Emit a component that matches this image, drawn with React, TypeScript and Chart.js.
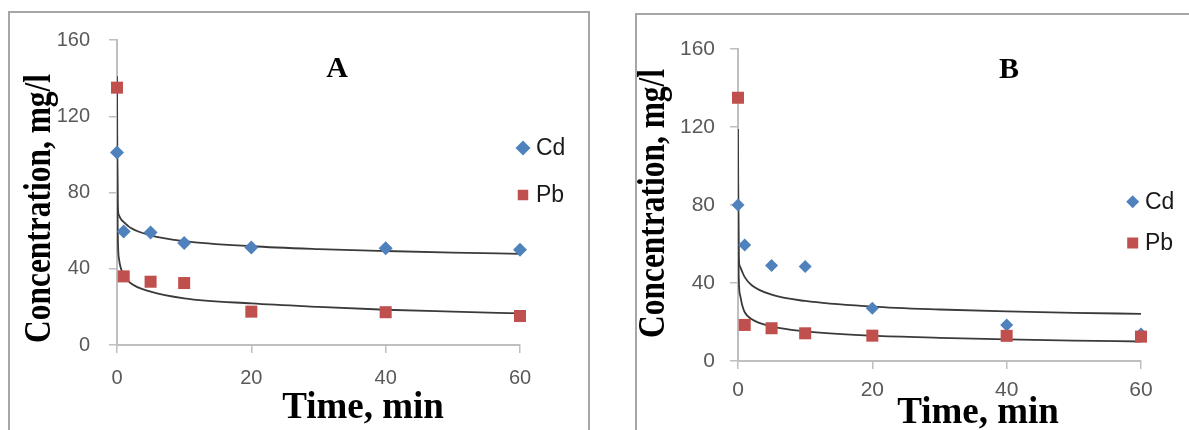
import React, { useEffect, useRef } from 'react';
import { Chart, registerables } from 'chart.js';

Chart.register(...registerables);

// ---------- data ----------
const timeMin = [0, 1, 5, 10, 20, 40, 60];
const cdA = [101, 59.5, 59, 53.5, 51.2, 50.7, 50];
const pbA = [135, 36, 33.2, 32.5, 17.5, 17.2, 15.2];
const cdB = [80, 59.5, 49, 48.5, 27, 18.5, 13.8];
const pbB = [135, 18.5, 16.8, 14.2, 13, 12.9, 12.5];

// trend curves
const fitTime = [0, 0.1, 0.3, 0.6, 1, 2, 5, 10, 20, 30, 40, 50, 60];
const cdFitA = [110, 74, 68, 66, 64.5, 61.5, 57.5, 54.5, 51.8, 50.3, 49.3, 48.5, 47.8];
const pbFitA = [141, 62, 45, 40, 36.5, 32.5, 28, 24.5, 21.8, 20, 18.5, 17.5, 16.6];
const cdFitB = [100, 54, 48.5, 46, 43, 39, 34, 30.8, 27.9, 26.4, 25.4, 24.7, 24.2];
const pbFitB = [119, 45, 34, 29, 25, 21.5, 17.7, 15.2, 13, 11.9, 11.1, 10.5, 10];

const xTickValues = [0, 20, 40, 60];
const yTickValues = [0, 40, 80, 120, 160];
const seriesNames = ['Cd', 'Pb'];
const xTitle = 'Time, min';
const yTitle = 'Concentration, mg/l';

const CD_COLOR = '#4F81BD';
const PB_COLOR = '#C0504D';
const AXIS_COLOR = '#BFBFBF';
const TICK_TEXT = '#595959';
const CURVE_COLOR = '#3a3a3a';

type Panel = {
  letter: string;
  cd: number[];
  pb: number[];
  cdFit: number[];
  pbFit: number[];
  left: number;
  width: number;
  padding: { left: number; right: number; top: number; bottom: number };
  tickFont: number;
  yTickPad: number;
  xTickPad: number;
  letterPos: [number, number];
  xTitlePos: [number, number];
  yTitlePos: [number, number];
  yTitleStretch: number;
  legendX: number;
  legendY: [number, number];
  legendTextX: number;
  diamondR: number;
  squareSide: number;
  pointR: [number, number];
};

const panels: Panel[] = [
  {
    letter: 'A',
    cd: cdA,
    pb: pbA,
    cdFit: cdFitA,
    pbFit: pbFitA,
    left: 0,
    width: 600,
    padding: { left: 17, right: 80, top: 40, bottom: 25 },
    tickFont: 20,
    yTickPad: 19,
    xTickPad: 13,
    letterPos: [337, 77],
    xTitlePos: [363, 418],
    yTitlePos: [50, 343],
    yTitleStretch: 0.85,
    legendX: 523,
    legendY: [148, 195],
    legendTextX: 536,
    diamondR: 7.5,
    squareSide: 10.5,
    pointR: [7, 8.5],
  },
  {
    letter: 'B',
    cd: cdB,
    pb: pbB,
    cdFit: cdFitB,
    pbFit: pbFitB,
    left: 600,
    width: 589,
    padding: { left: 38, right: 48, top: 49, bottom: 9 },
    tickFont: 21,
    yTickPad: 15,
    xTickPad: 9,
    letterPos: [409, 78],
    xTitlePos: [378, 423],
    yTitlePos: [64, 338],
    yTitleStretch: 0.85,
    legendX: 532.7,
    legendY: [201.7, 243],
    legendTextX: 545,
    diamondR: 6.5,
    squareSide: 11,
    pointR: [6.5, 8.5],
  },
];

function toXY(xs: number[], ys: number[]) {
  return xs.map((x, i) => ({ x, y: ys[i] }));
}

function makePlugin(p: Panel) {
  return {
    id: 'annot' + p.letter,
    afterDraw(chart: any) {
      const ctx: CanvasRenderingContext2D = chart.ctx;
      ctx.save();
      ctx.fillStyle = '#000';
      ctx.textAlign = 'center';
      ctx.textBaseline = 'alphabetic';
      ctx.font = 'bold 30px "Liberation Serif"';
      ctx.fillText(p.letter, p.letterPos[0], p.letterPos[1]);

      ctx.font = 'bold 37px "Liberation Serif"';
      ctx.fillText(xTitle, p.xTitlePos[0], p.xTitlePos[1]);

      ctx.save();
      ctx.translate(p.yTitlePos[0], p.yTitlePos[1]);
      ctx.rotate(-Math.PI / 2);
      ctx.scale(p.yTitleStretch, 1);
      ctx.textAlign = 'left';
      ctx.fillText(yTitle, 0, 0);
      ctx.restore();

      // legend
      ctx.font = '23px "Liberation Sans"';
      ctx.textAlign = 'left';
      ctx.textBaseline = 'middle';
      seriesNames.forEach((name, i) => {
        const ds = chart.data.datasets.find((d: any) => d.label === name);
        const cx = p.legendX;
        const cy = p.legendY[i];
        ctx.fillStyle = ds.backgroundColor;
        if (ds.pointStyle === 'rectRot') {
          const r = p.diamondR;
          ctx.beginPath();
          ctx.moveTo(cx, cy - r);
          ctx.lineTo(cx + r, cy);
          ctx.lineTo(cx, cy + r);
          ctx.lineTo(cx - r, cy);
          ctx.closePath();
          ctx.fill();
        } else {
          const s = p.squareSide;
          ctx.fillRect(cx - s / 2, cy - s / 2, s, s);
        }
        ctx.fillStyle = '#1a1a1a';
        ctx.fillText(name, p.legendTextX, cy + 1);
      });
      ctx.restore();
    },
  };
}

function PanelChart({ p }: { p: Panel }) {
  const ref = useRef<HTMLCanvasElement | null>(null);
  useEffect(() => {
    if (!ref.current) return;
    const tickFont = { family: '"Liberation Sans", Arial, sans-serif', size: p.tickFont };
    const chart = new Chart(ref.current, {
      type: 'scatter',
      data: {
        datasets: [
          {
            label: 'Cd',
            data: toXY(timeMin, p.cd),
            pointStyle: 'rectRot',
            pointRadius: p.pointR[0],
            backgroundColor: CD_COLOR,
            borderColor: CD_COLOR,
            borderWidth: 0,
            clip: false,
            order: 1,
          },
          {
            label: 'Pb',
            data: toXY(timeMin, p.pb),
            pointStyle: 'rect',
            pointRadius: p.pointR[1],
            backgroundColor: PB_COLOR,
            borderColor: PB_COLOR,
            borderWidth: 0,
            clip: false,
            order: 0,
          },
          {
            type: 'line',
            label: 'Cd fit',
            data: toXY(fitTime, p.cdFit),
            showLine: true,
            pointRadius: 0,
            borderColor: CURVE_COLOR,
            borderWidth: 1.8,
            cubicInterpolationMode: 'monotone',
            fill: false,
            order: 2,
          } as any,
          {
            type: 'line',
            label: 'Pb fit',
            data: toXY(fitTime, p.pbFit),
            showLine: true,
            pointRadius: 0,
            borderColor: CURVE_COLOR,
            borderWidth: 1.8,
            cubicInterpolationMode: 'monotone',
            fill: false,
            order: 2,
          } as any,
        ],
      },
      options: {
        animation: false,
        responsive: false,
        maintainAspectRatio: false,
        layout: { padding: p.padding },
        plugins: { legend: { display: false }, tooltip: { enabled: false }, title: { display: false } },
        events: [],
        scales: {
          x: {
            type: 'linear',
            min: 0,
            max: 60,
            afterBuildTicks: (s: any) => {
              s.ticks = xTickValues.map((v) => ({ value: v }));
            },
            ticks: { color: TICK_TEXT, font: tickFont, padding: p.xTickPad, maxRotation: 0 },
            grid: { drawOnChartArea: false, drawTicks: true, tickLength: 8, color: AXIS_COLOR, lineWidth: 1.5 },
            border: { display: true, color: AXIS_COLOR, width: 2 },
            afterFit: (s: any) => {
              s.height = 60;
              s.paddingLeft = 0;
              s.paddingRight = 0;
            },
          },
          y: {
            type: 'linear',
            min: 0,
            max: 160,
            afterBuildTicks: (s: any) => {
              s.ticks = yTickValues.map((v) => ({ value: v }));
            },
            ticks: { color: TICK_TEXT, font: tickFont, padding: p.yTickPad },
            grid: { drawOnChartArea: false, drawTicks: true, tickLength: 8, color: AXIS_COLOR, lineWidth: 1.5 },
            border: { display: true, color: AXIS_COLOR, width: 2 },
            afterFit: (s: any) => {
              s.width = 100;
              s.paddingTop = 0;
              s.paddingBottom = 0;
            },
          },
        },
      } as any,
      plugins: [makePlugin(p)],
    });
    return () => chart.destroy();
  }, [p]);
  return (
    <canvas
      ref={ref}
      width={p.width}
      height={430}
      style={{ position: 'absolute', left: p.left, top: 0, width: p.width, height: 430, display: 'block' }}
    />
  );
}

export default function App() {
  return (
    <div
      style={{
        position: 'fixed',
        left: 0,
        top: 0,
        width: 1189,
        height: 430,
        background: '#fff',
        overflow: 'hidden',
      }}
    >
      <div
        style={{
          position: 'absolute',
          left: 8,
          top: 11,
          width: 578,
          height: 440,
          border: '2px solid #a6a6a6',
        }}
      />
      <div
        style={{
          position: 'absolute',
          left: 635,
          top: 13,
          width: 600,
          height: 440,
          border: '2px solid #a6a6a6',
        }}
      />
      {panels.map((p) => (
        <PanelChart key={p.letter} p={p} />
      ))}
    </div>
  );
}
